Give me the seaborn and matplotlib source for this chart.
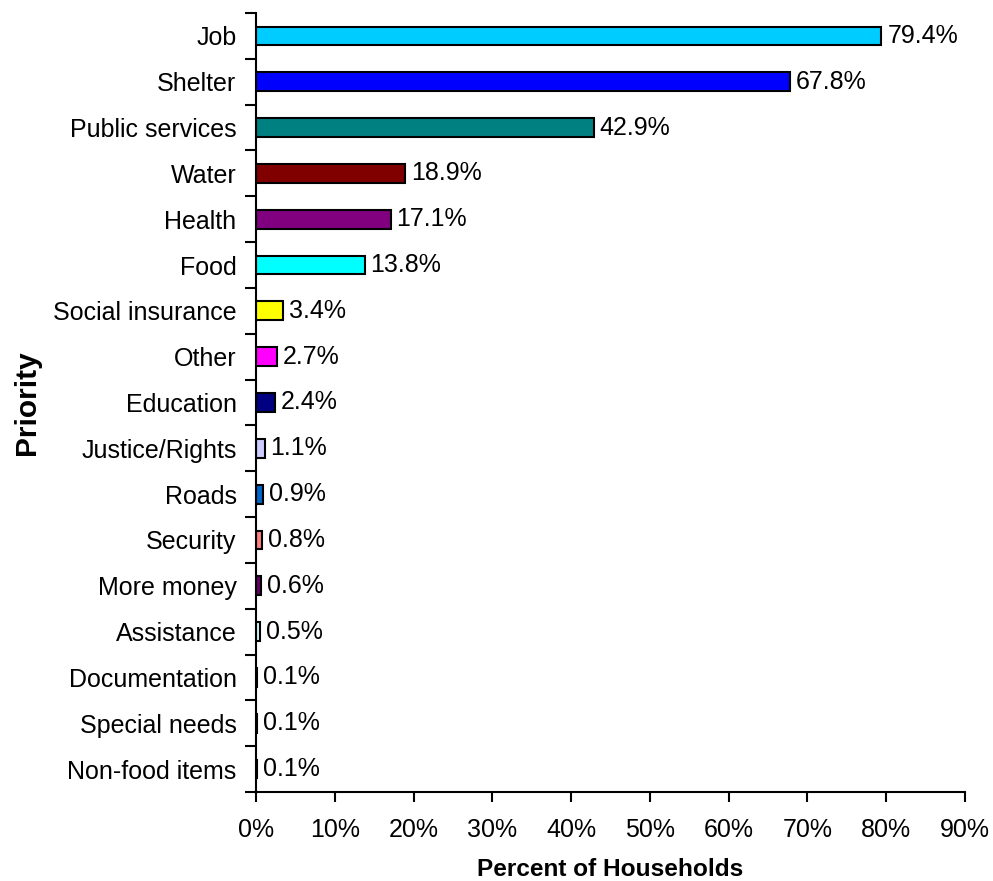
import matplotlib
matplotlib.use("Agg")
import matplotlib.pyplot as plt
import seaborn as sns
import pandas as pd
import numpy as np
from matplotlib.ticker import FixedLocator, PercentFormatter

categories = ["Job", "Shelter", "Public services", "Water", "Health", "Food",
              "Social insurance", "Other", "Education", "Justice/Rights", "Roads",
              "Security", "More money", "Assistance", "Documentation",
              "Special needs", "Non-food items"]
percent = [79.4, 67.8, 42.9, 18.9, 17.1, 13.8, 3.4, 2.7, 2.4, 1.1, 0.9,
           0.8, 0.6, 0.5, 0.1, 0.1, 0.1]
bar_colors = ["#00CCFF", "#0000FF", "#008080", "#800000", "#800080", "#00FFFF",
              "#FFFF00", "#FF00FF", "#000080", "#CCCCFF", "#0066CC",
              "#FF8080", "#660066", "#CCFFFF", "#0000FF", "#800080", "#000080"]
x_ticks = [0, 10, 20, 30, 40, 50, 60, 70, 80, 90]

sns.set_style("white")
plt.rcParams["font.family"] = ["Liberation Sans", "DejaVu Sans"]
plt.rcParams["text.color"] = "black"
plt.rcParams["axes.labelcolor"] = "black"
plt.rcParams["xtick.color"] = "black"
plt.rcParams["ytick.color"] = "black"

df = pd.DataFrame({"Priority": categories, "Percent": percent})
palette = dict(zip(categories, bar_colors))

fig = plt.figure(figsize=(9.93, 8.81), dpi=100)
ax = fig.add_axes([256 / 993, 1 - 792 / 881, (965 - 256) / 993, (792 - 13) / 881])

sns.barplot(data=df, x="Percent", y="Priority", hue="Priority", palette=palette,
            order=categories, hue_order=categories, orient="h", width=0.41,
            edgecolor="black", linewidth=1.5, legend=False, ax=ax, saturation=1)

for i, v in enumerate(percent):
    ax.text(v + 0.75, i, f"{v:.1f}%", va="center", ha="left", fontsize=18,
            color="black")

ax.set_xlim(0, 90)
ax.set_ylim(len(categories) - 0.5, -0.5)
ax.set_xticks(x_ticks)
ax.xaxis.set_major_formatter(PercentFormatter(decimals=0))
ax.tick_params(axis="x", labelsize=18, direction="out", length=7, width=1.5,
               bottom=True, pad=12, colors="black")
ax.tick_params(axis="y", which="major", labelsize=18, length=0, pad=14,
               colors="black")
ax.yaxis.set_minor_locator(FixedLocator(np.arange(-0.5, len(categories), 1.0)))
ax.tick_params(axis="y", which="minor", direction="out", length=8, width=1.5,
               left=True, colors="black")

for side in ["top", "right"]:
    ax.spines[side].set_visible(False)
for side in ["left", "bottom"]:
    ax.spines[side].set_color("black")
    ax.spines[side].set_linewidth(1.5)

ax.set_xlabel("Percent of Households", fontsize=17.6, fontweight="bold")
ax.xaxis.label.set_va("center")
ax.xaxis.set_label_coords(0.5, (792 - 869) / 779)
ax.set_ylabel("Priority", fontsize=21.5, fontweight="bold")
ax.yaxis.label.set_va("center")
ax.yaxis.set_label_coords((27 - 256) / 709, 0.5)

fig.savefig("out.png", dpi=100)
